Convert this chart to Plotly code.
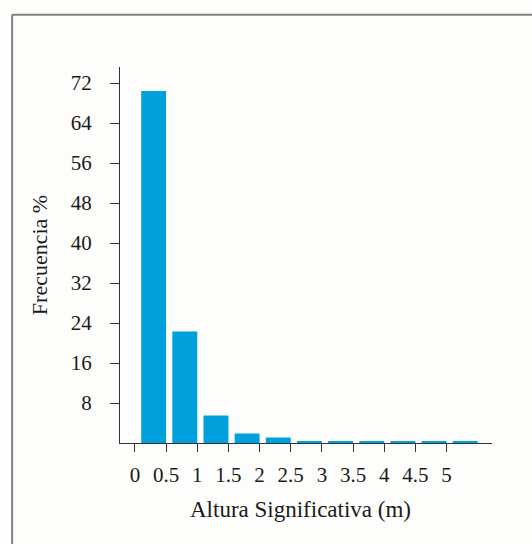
import plotly.graph_objects as go

bin_centers = [0.3, 0.8, 1.3, 1.8, 2.3, 2.8, 3.3, 3.8, 4.3, 4.8, 5.3]
frecuencia = [70.4, 22.3, 5.5, 1.9, 1.1, 0.3, 0.3, 0.3, 0.3, 0.3, 0.3]
x_ticks = [0, 0.5, 1, 1.5, 2, 2.5, 3, 3.5, 4, 4.5, 5]
x_tick_labels = ["0", "0.5", "1", "1.5", "2", "2.5", "3", "3.5", "4", "4.5", "5"]
y_ticks = [8, 16, 24, 32, 40, 48, 56, 64, 72]
x_title = "Altura Significativa (m)"
y_title = "Frecuencia %"

FONT = "Liberation Serif"
BG = "#FDFDFB"

fig = go.Figure(
    go.Bar(
        x=bin_centers,
        y=frecuencia,
        width=0.4,
        marker=dict(color="#00A0DC", line=dict(width=0)),
        hoverinfo="skip",
    )
)

fig.update_layout(
    width=532,
    height=544,
    margin=dict(l=120, r=40, t=67, b=101),
    paper_bgcolor=BG,
    plot_bgcolor=BG,
    showlegend=False,
    font=dict(family=FONT, size=21, color="#1a1a1a"),
    xaxis=dict(
        range=[-0.24, 5.73],
        tickmode="array",
        tickvals=x_ticks,
        ticktext=x_tick_labels,
        showgrid=False,
        zeroline=False,
        showline=True,
        linecolor="#333333",
        linewidth=1,
        ticks="outside",
        ticklen=8,
        tickcolor="#333333",
        ticklabelstandoff=5,
    ),
    yaxis=dict(
        range=[0, 75.2],
        tickmode="array",
        tickvals=y_ticks,
        showgrid=False,
        zeroline=False,
        showline=True,
        linecolor="#333333",
        linewidth=1,
        ticks="outside",
        ticklen=9,
        tickcolor="#333333",
        ticklabelstandoff=14,
        title=dict(text=y_title, standoff=17, font=dict(family=FONT, size=22)),
    ),
    annotations=[
        dict(text=x_title, xref="paper", yref="paper", x=0.484, y=-0.178,
             xanchor="center", yanchor="middle", showarrow=False,
             font=dict(family=FONT, size=23, color="#1a1a1a")),
    ],
    shapes=[
        dict(type="line", xref="paper", yref="paper", x0=-0.29, x1=1.5, y0=1.139, y1=1.139,
             line=dict(color="#808080", width=2)),
        dict(type="line", xref="paper", yref="paper", x0=-0.29, x1=-0.29, y0=-0.5, y1=1.139,
             line=dict(color="#808080", width=2)),
    ],
)

fig.write_html(
    "out.html",
    config={"displayModeBar": False},
    post_script="document.body.style.margin='0';document.body.style.overflow='hidden';",
)
